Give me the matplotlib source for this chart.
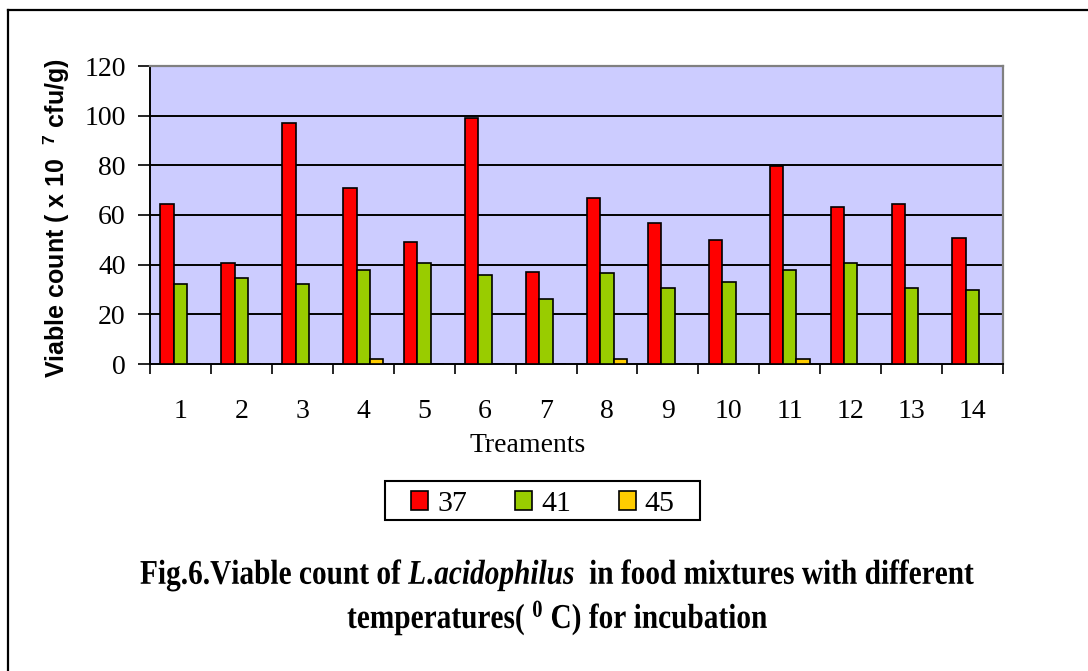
import matplotlib
matplotlib.use("Agg")
import matplotlib.pyplot as plt
import numpy as np
from matplotlib.lines import Line2D
from matplotlib.patches import Patch, Rectangle
from matplotlib.text import Text
from matplotlib.transforms import Affine2D, Bbox
from matplotlib.patheffects import AbstractPathEffect

categories = ["1", "2", "3", "4", "5", "6", "7", "8", "9", "10", "11", "12", "13", "14"]
temp37 = [64.6, 40.8, 97.0, 70.7, 49.1, 99.1, 36.9, 67.0, 56.9, 50.0, 79.9, 63.1, 64.6, 50.7]
temp41 = [32.1, 34.6, 32.1, 37.7, 40.8, 35.9, 26.1, 36.7, 30.7, 33.1, 37.7, 40.8, 30.7, 30.0]
temp45 = [0, 0, 0, 2.2, 0, 0, 0, 2.2, 0, 0, 2.2, 0, 0, 0]
series_names = ["37", "41", "45"]
colors = ["#FF0000", "#99CC00", "#FFCC00"]
yticks = [0, 20, 40, 60, 80, 100, 120]

plt.rcParams['mathtext.fontset'] = 'custom'
plt.rcParams['mathtext.rm'] = 'Liberation Serif:bold'
plt.rcParams['mathtext.it'] = 'Liberation Serif:bold:italic'
plt.rcParams['mathtext.sf'] = 'Liberation Sans:bold'

W, H = 1088, 671
fig = plt.figure(figsize=(W / 100, H / 100), dpi=100)
fig.patch.set_facecolor("white")


class HStretch(AbstractPathEffect):
    """Compress glyph outlines horizontally around the text anchor."""
    def __init__(self, text):
        super().__init__()
        self.text = text

    def draw_path(self, renderer, gc, tpath, affine, rgbFace=None):
        cx = self.text.get_transform().transform(self.text.get_position())[0]
        sx = self.text.sx
        extra = Affine2D().translate(-cx, 0).scale(sx, 1).translate(cx, 0)
        renderer.draw_path(gc, tpath, affine + extra, rgbFace)


class StretchText(Text):
    def __init__(self, *args, **kwargs):
        super().__init__(*args, **kwargs)
        self.sx = 1.0
        self.set_path_effects([HStretch(self)])

    def natural_extent(self, renderer):
        return super().get_window_extent(renderer)

    def get_window_extent(self, renderer=None, dpi=None):
        bb = super().get_window_extent(renderer, dpi)
        cx = self.get_transform().transform(self.get_position())[0]
        return Bbox.from_extents(cx + (bb.x0 - cx) * self.sx, bb.y0,
                                 cx + (bb.x1 - cx) * self.sx, bb.y1)


ax = fig.add_axes([150 / W, 1 - 364 / H, (1003 - 150) / W, (364 - 66) / H])
ax.set_facecolor("#CCCCFF")

x = np.arange(len(categories))
bw = 0.22
for i, vals in enumerate([temp37, temp41, temp45]):
    ax.bar(x + (i - 1) * bw, vals, width=bw, color=colors[i], edgecolor="black",
           linewidth=1.2, zorder=3)

ax.set_xlim(-0.5, len(categories) - 0.5)
ax.set_ylim(0, 120)
ax.set_yticks(yticks)
ax.set_yticklabels([str(v) for v in yticks], family="Liberation Serif", fontsize=20)
for v in yticks[1:]:
    ax.axhline(v, color="black", lw=1.4, zorder=1)

ax.set_xticks(np.arange(len(categories) + 1) - 0.5)
ax.set_xticklabels([])
ax.set_xticks(x, minor=True)
ax.set_xticklabels(categories, minor=True, family="Liberation Serif", fontsize=20)
ax.tick_params(axis="x", which="major", direction="out", length=7, width=1.2, color="black")
ax.tick_params(axis="x", which="minor", length=0, pad=25)
ax.tick_params(axis="y", direction="out", length=8.5, width=1.2, pad=9)

for s in ["left", "bottom"]:
    ax.spines[s].set_color("black")
    ax.spines[s].set_linewidth(1.4)
for s in ["top", "right"]:
    ax.spines[s].set_color("#808080")
    ax.spines[s].set_linewidth(1.6)

fig.text(528 / W, 1 - 445 / H, "Treaments", family="Liberation Serif", fontsize=20,
         ha="center", va="center")

fig.text(56 / W, 1 - 218 / H, r"Viable count ( x 10  $^{\mathsf{7}}$ cfu/g)",
         family="Liberation Sans", fontweight="bold", fontsize=18,
         rotation=90, ha="center", va="center")

# legend
handles = [Patch(facecolor=c, edgecolor="black", linewidth=1.2) for c in colors]
fig.legend(handles, series_names, loc="center", bbox_to_anchor=(543 / W, 1 - 504 / H),
           ncol=3, frameon=False,
           prop={"family": "Liberation Serif", "size": 21.5},
           handlelength=0.57, handleheight=0.57, handletextpad=0.3,
           columnspacing=1.6, borderpad=0.1)
fig.add_artist(Rectangle((385 / W, 1 - 520 / H), (700 - 385) / W, 39 / H,
                         transform=fig.transFigure, fill=False, edgecolor="black", lw=1.5))

# caption (tall, slightly condensed bold serif)
title1 = r"Fig.6.Viable count of $L.\!acidophilus$  in food mixtures with different"
title2 = r"temperatures( $^{0}$ C) for incubation"
t1 = StretchText(558 / W, 1 - 584 / H, title1, transform=fig.transFigure,
                 family="Liberation Serif", fontweight="bold", fontsize=25,
                 ha="center", va="baseline")
t2 = StretchText(558 / W, 1 - 628 / H, title2, transform=fig.transFigure,
                 family="Liberation Serif", fontweight="bold", fontsize=25,
                 ha="center", va="baseline")
fig.add_artist(t1)
fig.add_artist(t2)
fig.canvas.draw()
r = fig.canvas.get_renderer()
sx = 836 / t1.natural_extent(r).width
t1.sx = sx
t2.sx = sx

fig.add_artist(Line2D([7.5 / W, 7.5 / W], [0, 1 - 10 / H], transform=fig.transFigure,
                      color="black", lw=1.6))
fig.add_artist(Line2D([7.5 / W, 1], [1 - 10 / H, 1 - 10 / H], transform=fig.transFigure,
                      color="black", lw=1.6))

fig.savefig("out.png", dpi=100)
